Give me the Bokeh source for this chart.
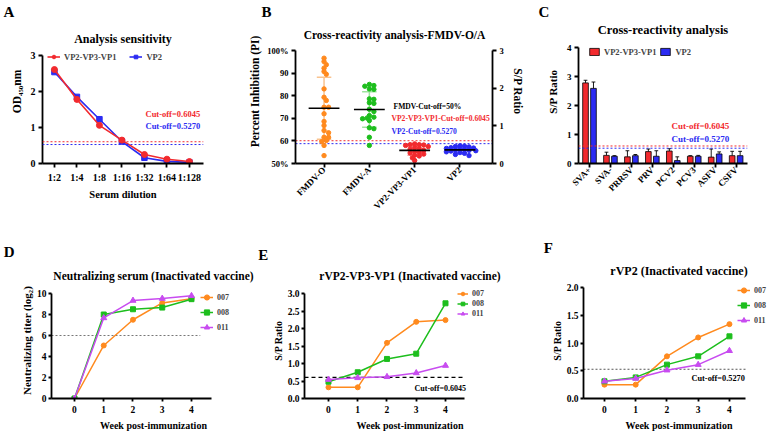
import numpy as np
from math import pi
from bokeh.plotting import figure
from bokeh.layouts import row, column
from bokeh.models import (Range1d, LinearAxis, Label, Legend, LegendItem, Title,
                          FixedTicker, PrintfTickFormatter, Span)
from bokeh.embed import file_html
from bokeh.resources import INLINE

FONT = "Liberation Serif"
RED = "#F22A2E"
BLUE = "#2B2BF2"
ORANGE = "#FF8A1E"
GREEN = "#1DBE1D"
VIOLET = "#C84CF0"

# ---------------- data ----------------
# A: sensitivity (OD450 vs serum dilution)
dilutions = ["1:2", "1:4", "1:8", "1:16", "1:32", "1:64", "1:128"]
a_vp2vp3vp1 = [2.61, 1.78, 1.06, 0.65, 0.25, 0.12, 0.055]
a_vp2 = [2.54, 1.85, 1.23, 0.61, 0.16, 0.06, 0.03]
cutoff_vp2vp3vp1 = 0.6045
cutoff_vp2 = 0.5270

# B: cross-reactivity with FMDV-O/A sera
b_groups = ["FMDV-O", "FMDV-A", "VP2-VP3-VP1", "VP2"]
b_fmdv_o = [96.6, 95.1, 93.7, 92.2, 90.7, 89.5, 83.0, 79.3, 77.9, 74.9, 74.9,
            72.0, 68.6, 66.8, 64.6, 63.6, 61.6, 61.6, 60.2, 59.7, 58.0, 53.5]
b_fmdv_a = [85.0, 84.5, 84.2, 83.0, 82.8, 78.6, 78.4, 76.9, 76.6, 74.0, 73.0,
            71.2, 70.5, 70.1, 69.8, 69.0, 65.8, 65.4, 61.6, 58.0]
b_vp2vp3vp1 = [0.52, 0.50, 0.50, 0.49, 0.48, 0.45, 0.42, 0.40, 0.38, 0.35,
               0.32, 0.30, 0.28, 0.25, 0.22, 0.20, 0.15, 0.08]
b_vp2 = [0.47, 0.46, 0.45, 0.44, 0.42, 0.41, 0.40, 0.38, 0.37, 0.36, 0.35,
         0.34, 0.33, 0.31, 0.29, 0.27, 0.24, 0.21]
fmdv_cutoff = 50

# C: cross-reactivity with other swine pathogens
c_samples = ["SVA+", "SVA-", "PRRSV", "PRV", "PCV2", "PCV3", "ASFV", "CSFV"]
c_vp2vp3vp1 = [2.78, 0.28, 0.23, 0.41, 0.43, 0.25, 0.22, 0.27]
c_vp2vp3vp1_sd = [0.09, 0.11, 0.21, 0.09, 0.08, 0.02, 0.28, 0.15]
c_vp2 = [2.59, 0.25, 0.27, 0.25, 0.10, 0.25, 0.33, 0.27]
c_vp2_sd = [0.22, 0.02, 0.04, 0.19, 0.13, 0.03, 0.07, 0.15]

# D-F: immunized pigs 007 / 008 / 011
weeks = [0, 1, 2, 3, 4]
pigs = ["007", "008", "011"]
d_titer = {"007": [0, 5.05, 7.5, 9.1, 9.5],
           "008": [0, 8.0, 8.5, 8.66, 9.46],
           "011": [0, 7.67, 9.33, 9.52, 9.78]}
neutralizing_threshold = 6
e_sp = {"007": [0.32, 0.32, 1.59, 2.19, 2.24],
        "008": [0.48, 0.75, 1.13, 1.28, 2.72],
        "011": [0.54, 0.59, 0.62, 0.73, 0.94]}
f_sp = {"007": [0.25, 0.25, 0.76, 1.10, 1.34],
        "008": [0.31, 0.38, 0.61, 0.76, 1.12],
        "011": [0.31, 0.36, 0.51, 0.61, 0.86]}

PIG_STYLE = {"007": (ORANGE, "circle", 5),
             "008": (GREEN, "square", 5),
             "011": (VIOLET, "triangle", 6)}

LETTER_PX = 15.0
LINE_H = 1.28      # rendered title height per px of font size
CAP_SHIFT = 2.0    # capital-letter centre sits this far below the text box centre


# ---------------- helpers ----------------
class Panel:
    """Figure at page offset (ox, oy).  Its axes run along the page box
    (l, t, r, b) over the data spans xs / ys; the plotting frame may reach
    further up (top) and right (right) so that titles and legends fit in it."""

    def __init__(self, ox, oy, w, h, box, xs, ys, top=None, right=None):
        l, t, r, b = box
        top = t if top is None else top
        right = r if right is None else right
        self.ox, self.oy = ox, oy
        self.L, self.T, self.R, self.B = l, top, right, b
        self.ext_top, self.ext_right = t - top, right - r
        self.xs, self.ys = xs, ys
        self.axis_px = (r - l, b - t)
        kx = (xs[1] - xs[0]) / (r - l)
        ky = (ys[1] - ys[0]) / (b - t)
        self.p = figure(width=w, height=h,
                        x_range=Range1d(xs[0], xs[1] + self.ext_right * kx),
                        y_range=Range1d(ys[0], ys[1] + self.ext_top * ky),
                        output_backend="svg", toolbar_location=None, title=None,
                        min_border_left=int(l - ox),
                        min_border_right=int(ox + w - right),
                        min_border_top=int(top - oy),
                        min_border_bottom=int(oy + h - b))
        self.p.xgrid.visible = False
        self.p.ygrid.visible = False
        self.p.outline_line_color = None
        self.p.background_fill_color = "white"
        self.p.border_fill_color = "white"

    def extra_range(self, name, span):
        k = (span[1] - span[0]) / self.axis_px[1]
        self.p.extra_y_ranges = {name: Range1d(span[0], span[1] + self.ext_top * k)}

    def bound_axes(self):
        for ax in self.p.xaxis:
            ax.bounds = tuple(self.xs)
        for ax in self.p.yaxis:
            if ax.y_range_name == "default":
                ax.bounds = tuple(self.ys)

    def text(self, x, y, txt, size, color="black", align="left",
             baseline="middle", style="bold"):
        self.p.add_layout(Label(x=x - self.L, y=self.B - y, x_units="screen",
                                y_units="screen", text=txt, text_font=FONT,
                                text_font_size=size, text_font_style=style,
                                text_color=color, text_align=align,
                                text_baseline=baseline))

    def _title(self, text, size, align, offset, standoff=0.0):
        self.p.add_layout(Title(text=text, align=align, offset=offset,
                                standoff=standoff, text_font=FONT,
                                text_font_style="bold", text_color="black",
                                text_font_size=f"{size}px"), "above")

    def letter(self, letter, lx, standoff=0.0):
        self._title(letter, LETTER_PX, "left", lx - self.L, standoff)

    def stack_above(self, title, cx, cap_t, tsize, letter, lx, cap_l):
        """Title and panel letter stacked above the frame; a title row keeps its
        text centred, so its standoff is spent half below and half above."""
        th_t, th_l = LINE_H * tsize, LINE_H * LETTER_PX
        c_t = cap_t - CAP_SHIFT
        c_l = cap_l - CAP_SHIFT
        st_t = max(2 * (self.T - c_t) - th_t, 0)
        t_top = self.T - th_t - st_t
        st_l = max(2 * (t_top - c_l) - th_l, 0)
        self._title(title, tsize, "center", cx - (self.L + self.R) / 2, st_t)
        self.letter(letter, lx, st_l)

    def legend(self, items, x, y_top, orientation="vertical", gw=13, gh=10,
               spacing=1, standoff=4, size="8.5px"):
        n = len(items) if orientation == "vertical" else 1
        height = n * gh + (n - 1) * spacing
        self.p.add_layout(Legend(
            items=items, location=(x - self.L, self.B - y_top - height),
            orientation=orientation, glyph_width=gw, glyph_height=gh,
            label_height=gh, label_width=8, spacing=spacing,
            label_standoff=standoff, padding=0, margin=0,
            border_line_color=None, background_fill_alpha=0,
            label_text_font=FONT, label_text_font_style="bold",
            label_text_font_size=size))


def style_axis(ax, tick_size="10px", label_size="10.5px", standoff=3,
               label_standoff=5, tick_out=4):
    ax.axis_line_width = 1.8
    ax.axis_line_color = "black"
    ax.major_tick_line_width = 1.8
    ax.major_tick_line_color = "black"
    ax.major_tick_out = tick_out
    ax.major_tick_in = 0
    ax.minor_tick_line_color = None
    ax.major_label_text_font = FONT
    ax.major_label_text_font_style = "bold"
    ax.major_label_text_font_size = tick_size
    ax.major_label_text_color = "black"
    ax.major_label_standoff = standoff
    ax.axis_label_text_font = FONT
    ax.axis_label_text_font_style = "bold"
    ax.axis_label_text_font_size = label_size
    ax.axis_label_text_color = "black"
    ax.axis_label_standoff = label_standoff


def category_axis(ax, labels):
    ax.ticker = FixedTicker(ticks=list(range(len(labels))))
    ax.major_label_overrides = {i: lab for i, lab in enumerate(labels)}


def swarm_offsets(vals, px_per_unit, d, squeeze=0.72):
    """Horizontal pixel offsets that keep dots of diameter d from piling up."""
    ys = np.asarray(vals, float) * px_per_unit
    steps = [0.0]
    for k in range(1, 30):
        steps += [k * d / 2, -k * d / 2]
    placed, offs = [], np.zeros(len(ys))
    for i in np.argsort(-ys, kind="stable"):
        for s in steps:
            if all((s - px) ** 2 + (ys[i] - py) ** 2 >= (squeeze * d) ** 2
                   for px, py in placed):
                offs[i] = s
                placed.append((s, ys[i]))
                break
    return offs


ROW1_H, ROW2_H = 220, 213
Y2 = ROW1_H
ROW1_TOP = 19          # shared frame top of the first row (page px)
ROW2_TOP = Y2 + 62     # shared frame top of the second row

# ---------------- A ----------------
A = Panel(0, 0, 246, ROW1_H, (42, 55, 203, 163), (-0.53, 6.625), (0, 3),
          top=ROW1_TOP)
pa = A.p
xi = list(range(len(dilutions)))
for ax in pa.axis:
    style_axis(ax)
category_axis(pa.xaxis[0], dilutions)
pa.xaxis.major_label_standoff = 4
pa.xaxis.axis_label_standoff = 3
pa.yaxis.ticker = FixedTicker(ticks=[0, 1, 2, 3])
pa.xaxis.axis_label = "Serum dilution"
pa.yaxis.axis_label = "OD\u2084\u2085\u2080nm"
pa.yaxis.axis_label_text_font_size = "11.5px"
A.bound_axes()
for cut, col in [(cutoff_vp2vp3vp1, RED), (cutoff_vp2, BLUE)]:
    pa.add_layout(Span(location=cut, dimension="width", line_color=col,
                       line_dash="2 2", line_width=1))
la_b = pa.line(xi, a_vp2, line_color=BLUE, line_width=1.6)
sa_b = pa.scatter(xi, a_vp2, marker="square", size=5.5, color=BLUE)
la_r = pa.line(xi, a_vp2vp3vp1, line_color=RED, line_width=1.6)
sa_r = pa.scatter(xi, a_vp2vp3vp1, marker="circle", size=6, color=RED)
A.legend([LegendItem(label="VP2-VP3-VP1", renderers=[la_r, sa_r]),
          LegendItem(label="VP2", renderers=[la_b, sa_b])],
         47, 52.8, orientation="horizontal", gw=13, gh=9, spacing=13)
A.text(145, 113, f"Cut-off={cutoff_vp2vp3vp1:.4f}", "8.5px", color=RED)
A.text(145, 125, f"Cut-off={cutoff_vp2:.4f}", "8.5px", color=BLUE)
A.text(122.5, 38, "Analysis sensitivity", "12px", align="center",
       baseline="alphabetic")
A.letter("A", 3)

# ---------------- B ----------------
B = Panel(246, 0, 284, ROW1_H, (292, 50, 492, 163), (-0.63, 3.718), (50, 100),
          top=ROW1_TOP)
pb = B.p
B.extra_range("sp", (0, 3))
pb.add_layout(LinearAxis(y_range_name="sp", axis_label="S/P Ratio",
                         bounds=(0, 3)), "right")
for ax in pb.axis:
    style_axis(ax, tick_size="8.5px")
category_axis(pb.xaxis[0], b_groups)
pb.xaxis.major_label_orientation = pi / 4
pb.xaxis.major_label_text_font_size = "9px"
pb.xaxis.major_label_standoff = 1
pb.yaxis[0].ticker = FixedTicker(ticks=[50, 60, 70, 80, 90, 100])
pb.yaxis[0].major_label_overrides = {50: "50%", 100: "100%"}
pb.yaxis[0].axis_label = "Percent Inhibition (PI)"
pb.yaxis[0].axis_label_text_font_size = "11.5px"
pb.yaxis[0].axis_label_standoff = 3
pb.yaxis[1].ticker = FixedTicker(ticks=[0, 1, 2, 3])
pb.yaxis[1].axis_label_text_font_size = "11.5px"
B.bound_axes()

# cut-off lines live on the S/P scale
for cut, col in [(cutoff_vp2vp3vp1, RED), (cutoff_vp2, BLUE)]:
    pb.segment(x0=[B.xs[0]], x1=[B.xs[1]], y0=[cut], y1=[cut], y_range_name="sp",
               line_color=col, line_dash="2 2", line_width=1)

B_PX_X = 46.0
groups = [(b_fmdv_o, ORANGE, "default", 113 / 50, "#F9C38F"),
          (b_fmdv_a, GREEN, "default", 113 / 50, "#9DE39D"),
          (b_vp2vp3vp1, RED, "sp", 113 / 3, "#F5A0A2"),
          (b_vp2, BLUE, "sp", 113 / 3, "#A0A0F5")]
for gi, (vals, col, rng, pxu, light) in enumerate(groups):
    v = np.asarray(vals, float)
    m, sd = v.mean(), v.std(ddof=1)
    kw = {} if rng == "default" else {"y_range_name": rng}
    pb.segment(x0=[gi], x1=[gi], y0=[m - sd], y1=[m + sd], line_color=light,
               line_width=1.5, **kw)
    pb.segment(x0=[gi - 0.16, gi - 0.16], x1=[gi + 0.16, gi + 0.16],
               y0=[m - sd, m + sd], y1=[m - sd, m + sd], line_color=light,
               line_width=1.5, **kw)
    offs = swarm_offsets(v, pxu, 4.6)
    pb.scatter(gi + offs / B_PX_X, v, marker="circle", size=4.4, color=col, **kw)
    pb.segment(x0=[gi - 0.34], x1=[gi + 0.34], y0=[m], y1=[m],
               line_color="black", line_width=1.6, **kw)

B.text(390, 106, f"FMDV-Cut-off={fmdv_cutoff}%", "7.6px")
B.text(388, 118, f"VP2-VP3-VP1-Cut-off={cutoff_vp2vp3vp1:.4f}", "7.6px",
       color=RED)
B.text(388, 131, f"VP2-Cut-off={cutoff_vp2:.4f}", "7.6px", color=BLUE)
B.text(391, 34.6, "Cross-reactivity analysis-FMDV-O/A", "11.5px",
       align="center", baseline="alphabetic")
B.letter("B", 258)

# ---------------- C ----------------
C = Panel(530, 0, 244, ROW1_H, (578, 47, 747, 163), (-0.525, 7.542), (0, 4),
          top=ROW1_TOP)
pc = C.p
for ax in pc.axis:
    style_axis(ax, tick_size="9px")
category_axis(pc.xaxis[0], c_samples)
pc.xaxis.major_label_orientation = pi / 4
pc.xaxis.major_label_standoff = 1
pc.yaxis.ticker = FixedTicker(ticks=[0, 1, 2, 3, 4])
pc.yaxis.axis_label = "S/P Ratio"
pc.yaxis.axis_label_text_font_size = "11px"
C.bound_axes()
for cut, col in [(cutoff_vp2vp3vp1, RED), (cutoff_vp2, BLUE)]:
    pc.add_layout(Span(location=cut, dimension="width", line_color=col,
                       line_dash="2 2", line_width=1))
ci = np.arange(len(c_samples))
leg_c = []
for off, vals, sds, col, name in [(-0.19, c_vp2vp3vp1, c_vp2vp3vp1_sd, RED, "VP2-VP3-VP1"),
                                  (0.19, c_vp2, c_vp2_sd, BLUE, "VP2")]:
    xs = ci + off
    top = np.asarray(vals) + np.asarray(sds)
    pc.segment(x0=xs, x1=xs, y0=vals, y1=top, line_color="black", line_width=0.9)
    pc.segment(x0=xs - 0.09, x1=xs + 0.09, y0=top, y1=top, line_color="black",
               line_width=0.9)
    r = pc.vbar(x=xs, top=vals, bottom=0, width=0.27, fill_color=col,
                line_color="black", line_width=0.8)
    leg_c.append(LegendItem(label=name, renderers=[r]))
C.legend(leg_c, 588, 47.5, orientation="horizontal", gw=12, gh=9,
         spacing=3, standoff=4, size="8.5px")
C.text(671, 125, f"Cut-off={cutoff_vp2vp3vp1:.4f}", "9px", color=RED)
C.text(671, 138, f"Cut-off={cutoff_vp2:.4f}", "9px", color=BLUE)
C.text(662.5, 29.6, "Cross-reactivity analysis", "12.5px", align="center",
       baseline="alphabetic")
C.letter("C", 538)


# ---------------- D / E / F ----------------
def time_course(panel, series, yticks, ylabel, fmt=None):
    p = panel.p
    for ax in p.axis:
        style_axis(ax, tick_size="9.5px", label_size="10px", standoff=2,
                   label_standoff=1, tick_out=3)
    p.xaxis.ticker = FixedTicker(ticks=weeks)
    p.yaxis.ticker = FixedTicker(ticks=yticks)
    p.xaxis.major_label_standoff = 4
    p.xaxis.axis_label_standoff = 4
    if fmt:
        p.yaxis.formatter = PrintfTickFormatter(format=fmt)
    p.xaxis.axis_label = "Week post-immunization"
    p.yaxis.axis_label = ylabel
    panel.bound_axes()
    items = []
    for pig in pigs:
        col, mk, sz = PIG_STYLE[pig]
        lr = p.line(weeks, series[pig], line_color=col, line_width=1.5)
        sr = p.scatter(weeks, series[pig], marker=mk, size=sz, color=col)
        items.append(LegendItem(label=pig, renderers=[lr, sr]))
    return items


D = Panel(0, Y2, 255, ROW2_H, (51, 293, 211, 398), (-0.786, 4.684), (0, 10),
          top=ROW2_TOP, right=255)
D.p.segment(x0=[D.xs[0]], x1=[4.3], y0=[neutralizing_threshold],
            y1=[neutralizing_threshold], line_color="#777777", line_dash="2 2",
            line_width=1)
items_d = time_course(D, d_titer, [0, 2, 4, 6, 8, 10],
                      "Neutralizing titer (log\u2082)")
D.p.yaxis.axis_label_text_font_size = "11px"
D.legend(items_d, 200, 290, gw=13, gh=14, spacing=1, size="8px")
D.stack_above("Neutralizing serum (Inactivated vaccine)", 131, 275.7, 11.5,
              "D", 3.3, 251.3)

E = Panel(255, Y2, 260, ROW2_H, (304, 293, 464, 398), (-0.82, 4.65), (0, 3),
          top=ROW2_TOP, right=515)
E.p.segment(x0=[E.xs[0]], x1=[E.xs[1]], y0=[cutoff_vp2vp3vp1],
            y1=[cutoff_vp2vp3vp1], line_color="black", line_dash="4 3",
            line_width=1.3)
items_e = time_course(E, e_sp, [0, 0.5, 1, 1.5, 2, 2.5, 3], "S/P Ratio", "%.1f")
E.legend(items_e, 457, 288.5, gw=11, gh=9, spacing=1, size="8px")
E.text(414, 388, f"Cut-off={cutoff_vp2vp3vp1:.4f}", "8px")
E.stack_above("rVP2-VP3-VP1 (Inactivated vaccine)", 384, 276.3, 11.5,
              "E", 257.7, 254.7)

F = Panel(515, Y2, 259, ROW2_H, (583, 287, 745, 398), (-0.67, 4.514), (0, 2),
          top=ROW2_TOP, right=774)
F.p.segment(x0=[F.xs[0]], x1=[F.xs[1]], y0=[cutoff_vp2], y1=[cutoff_vp2],
            line_color="#555555", line_dash="2 2", line_width=1)
items_f = time_course(F, f_sp, [0, 0.5, 1, 1.5, 2], "S/P Ratio", "%.1f")
F.legend(items_f, 737, 283, gw=13, gh=14, spacing=1, size="8px")
F.text(691, 378, f"Cut-off={cutoff_vp2:.4f}", "8.3px")
F.stack_above("rVP2 (Inactivated vaccine)", 664, 271.5, 12,
              "F", 543.3, 249.3)

layout = column(row(A.p, B.p, C.p), row(D.p, E.p, F.p))
open("out.html", "w").write(file_html(layout, INLINE))
